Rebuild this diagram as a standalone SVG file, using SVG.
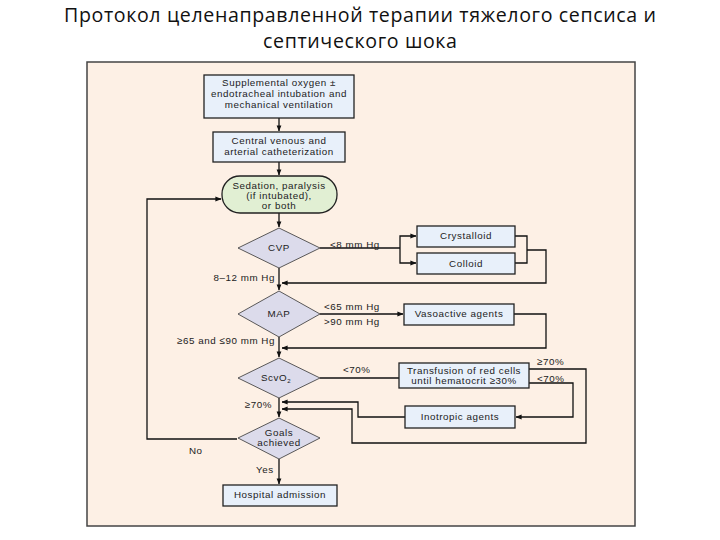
<svg xmlns="http://www.w3.org/2000/svg" width="720" height="540" viewBox="0 0 720 540">
<defs>
<marker id="ah" viewBox="0 0 8 8" refX="7.5" refY="4" markerWidth="6" markerHeight="6" orient="auto" markerUnits="userSpaceOnUse">
<path d="M0,0.8 L8,4 L0,7.2 z" fill="#111"/>
</marker>
</defs>
<style>
.t{font-family:"Liberation Sans",Arial,sans-serif;font-size:9.8px;letter-spacing:0.55px;fill:#222;text-anchor:middle}
.l{font-family:"Liberation Sans",Arial,sans-serif;font-size:9.8px;letter-spacing:0.55px;fill:#222}
.r{text-anchor:end}
.box{fill:#e8f0fa;stroke:#222;stroke-width:1.3}
.dia{fill:#dcdbeb;stroke:#333;stroke-width:0.8}
.c{fill:none;stroke:#111;stroke-width:1.3}
.ca{fill:none;stroke:#111;stroke-width:1.3;marker-end:url(#ah)}
.title{font-family:"Open Sans","Noto Sans",sans-serif;font-size:19.6px;fill:#111;text-anchor:middle}
</style>
<rect width="720" height="540" fill="#fff"/>
<text class="title" x="360" y="22" textLength="592" lengthAdjust="spacing">Протокол целенаправленной терапии тяжелого сепсиса и</text>
<text class="title" x="360" y="48" textLength="194" lengthAdjust="spacing">септического шока</text>
<rect x="87" y="62" width="548" height="464" fill="#fdf0e5" stroke="#444" stroke-width="1.5"/>

<g id="connectors">
<path class="ca" d="M279,118 V131"/>
<path class="ca" d="M279,162 V175"/>
<path class="ca" d="M279,213 V227"/>
<path class="c" d="M320,248 H400"/>
<path class="ca" d="M400,248 V236 H416"/>
<path class="ca" d="M400,248 V263 H416"/>
<path class="c" d="M515,236 H527 V263 H515"/>
<path class="ca" d="M527,250 H546 V283 H282"/>
<path class="ca" d="M279,268 V290"/>
<path class="ca" d="M320,314 H403"/>
<path class="ca" d="M514,314 H546 V348 H282"/>
<path class="ca" d="M279,337 V357"/>
<path class="c" d="M320,378 H399"/>
<path class="ca" d="M529,369 H586 V443 H352 V409 H282"/>
<path class="ca" d="M529,383 H573 V417 H516"/>
<path class="ca" d="M405,417 H358 V402 H282"/>
<path class="ca" d="M279,398 V417"/>
<path class="ca" d="M237,439 H147 V199 H221"/>
<path class="ca" d="M279,459 V484"/>
</g>

<g id="n-oxygen">
<rect class="box" x="204" y="75" width="150" height="43"/>
<text class="t" x="279" y="86">Supplemental oxygen ±</text>
<text class="t" x="279" y="97">endotracheal intubation and</text>
<text class="t" x="279" y="108">mechanical ventilation</text>
</g>
<g id="n-catheter">
<rect class="box" x="213" y="132" width="132" height="30"/>
<text class="t" x="279" y="144">Central venous and</text>
<text class="t" x="279" y="155">arterial catheterization</text>
</g>
<g id="n-sedation">
<rect x="222" y="176" width="115" height="37" rx="18" ry="18" fill="#e1efd3" stroke="#222" stroke-width="1.3"/>
<text class="t" x="279" y="189">Sedation, paralysis</text>
<text class="t" x="279" y="199">(if intubated),</text>
<text class="t" x="279" y="209">or both</text>
</g>
<g id="n-cvp">
<polygon class="dia" points="279,228 320,248 279,268 238,248"/>
<text class="t" x="279" y="251">CVP</text>
</g>
<g id="n-crystalloid">
<rect class="box" x="417" y="226" width="98" height="21"/>
<text class="t" x="466" y="239">Crystalloid</text>
</g>
<g id="n-colloid">
<rect class="box" x="417" y="253" width="98" height="21"/>
<text class="t" x="466" y="267">Colloid</text>
</g>
<g id="n-map">
<polygon class="dia" points="279,291 320,314 279,337 238,314"/>
<text class="t" x="279" y="317">MAP</text>
</g>
<g id="n-vasoactive">
<rect class="box" x="404" y="304" width="110" height="21"/>
<text class="t" x="459" y="317">Vasoactive agents</text>
</g>
<g id="n-svco2">
<polygon class="dia" points="279,358 320,378 279,398 238,378"/>
<text class="t" x="276" y="381">ScvO<tspan font-size="6" dy="2">2</tspan></text>
</g>
<g id="n-transfusion">
<rect class="box" x="399" y="363" width="130" height="25"/>
<text class="t" x="464" y="374">Transfusion of red cells</text>
<text class="t" x="464" y="384">until hematocrit ≥30%</text>
</g>
<g id="n-inotropic">
<rect class="box" x="405" y="406" width="110" height="22"/>
<text class="t" x="460" y="420">Inotropic agents</text>
</g>
<g id="n-goals">
<polygon class="dia" points="279,418 320,438 279,459 238,438"/>
<text class="t" x="279" y="436">Goals</text>
<text class="t" x="279" y="446">achieved</text>
</g>
<g id="n-hospital">
<rect class="box" x="223" y="485" width="114" height="21"/>
<text class="t" x="280" y="498">Hospital admission</text>
</g>

<g id="labels">
<text class="l" x="330" y="248">&lt;8 mm Hg</text>
<text class="l r" x="275" y="281">8–12 mm Hg</text>
<text class="l" x="324" y="310">&lt;65 mm Hg</text>
<text class="l" x="324" y="325">&gt;90 mm Hg</text>
<text class="l r" x="275" y="344">≥65 and ≤90 mm Hg</text>
<text class="l" x="343" y="373">&lt;70%</text>
<text class="l" x="537" y="365">≥70%</text>
<text class="l" x="537" y="382">&lt;70%</text>
<text class="l r" x="272" y="408">≥70%</text>
<text class="l" x="189" y="454">No</text>
<text class="l" x="256" y="473">Yes</text>
</g>
</svg>
